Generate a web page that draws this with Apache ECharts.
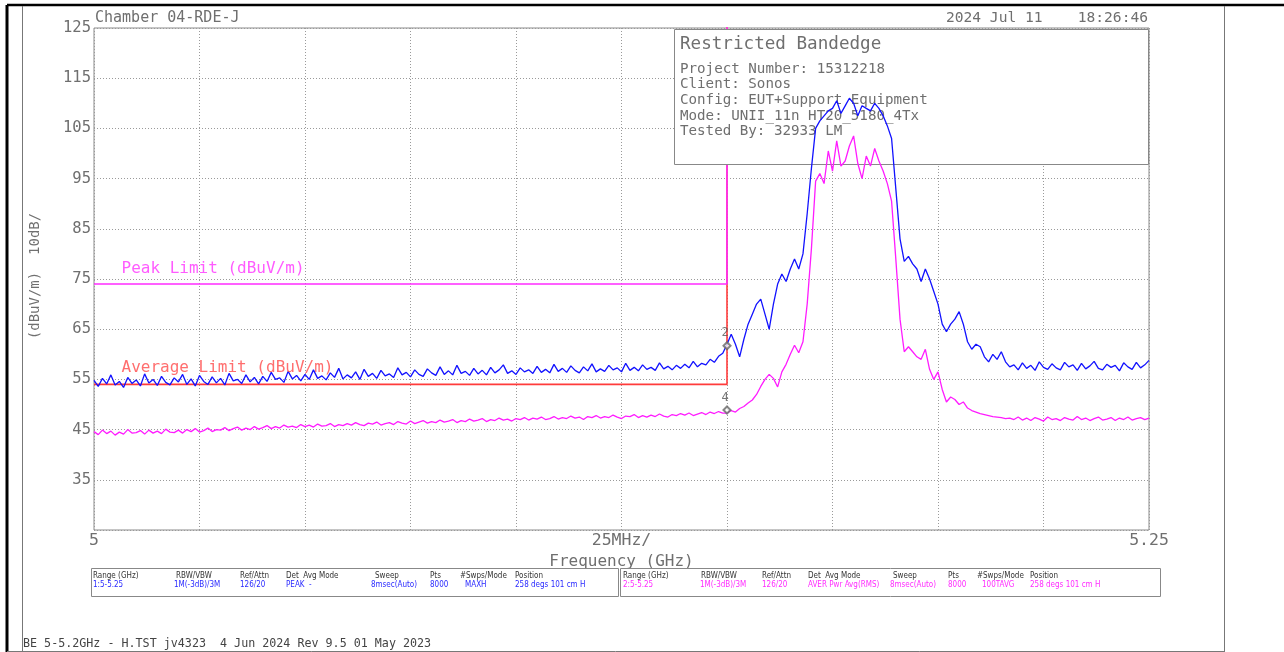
<!DOCTYPE html>
<html>
<head>
<meta charset="utf-8">
<title>Restricted Bandedge</title>
<script src="https://cdn.jsdelivr.net/npm/echarts@6/dist/echarts.min.js"></script>
<style>
  html, body { margin: 0; padding: 0; background: #fff; }
  #chart { width: 1284px; height: 652px; }
</style>
</head>
<body>
<div id="chart"></div>
<script>
// sweep: 5.000 .. 5.250 GHz, 1 MHz per point
var freqStart = 5;
var freqStep = 0.001;

// trace 1 - peak (MAXH), dBuV/m
var peakTrace = [
  54.8, 53.6, 55.2, 54.1, 55.9, 53.9, 54.6, 53.4, 55.4, 54.2,
  54.9, 53.7, 56.1, 54.3, 55.0, 53.8, 55.6, 54.4, 53.9, 55.3,
  54.5, 56.0, 54.0, 55.1, 53.7, 55.8, 54.6, 54.0, 55.5, 54.3,
  55.2, 53.9, 56.2, 54.7, 55.0, 54.2, 55.9, 54.5, 55.4, 54.1,
  55.6, 54.6, 56.4, 55.0, 55.3, 54.4, 56.6, 55.1, 55.8, 54.7,
  56.0, 55.0, 56.9, 55.2, 55.7, 54.9, 56.3, 55.4, 57.2, 55.1,
  55.9, 55.3, 56.5, 55.0, 57.0, 55.6, 56.2, 55.2, 56.8, 55.7,
  56.1, 55.4, 57.3, 55.9, 56.4, 55.5, 56.9, 56.0, 55.6, 57.1,
  56.3, 55.8, 57.5, 56.0, 56.7, 55.9, 57.8, 56.2, 56.6, 55.8,
  57.2, 56.1, 56.8, 55.9, 57.4, 56.3, 56.9, 57.9, 56.2, 56.7,
  56.0, 57.3, 56.5, 56.9, 56.2, 57.6, 56.4, 57.0, 56.3, 58.0,
  56.6, 57.2, 56.4, 57.7, 56.8, 56.3, 57.5, 56.7, 58.1, 56.5,
  57.1, 56.6, 57.8, 56.9, 57.3, 56.5, 58.2, 56.8, 57.4, 56.7,
  57.9, 57.0, 57.4, 56.8, 58.3, 57.1, 57.6, 56.9, 57.8, 57.2,
  58.0, 57.3, 58.6, 57.5, 58.2, 57.9, 59.0, 58.4, 59.6, 60.2,
  62, 64, 62, 59.5, 63, 66, 68, 70, 71, 68,
  65, 70, 74, 76, 74.5, 77, 79, 77, 80, 88,
  97, 105, 106.5, 107.5, 108.5, 109, 110.5, 108, 109.5, 111,
  110, 107.5, 109.5, 109, 108.5, 110, 109, 107.5, 105.5, 103,
  93, 83, 78.5, 79.5, 78, 77, 74.5, 77, 75, 72.5,
  70, 66, 64.5, 66, 67, 68.5, 66, 62.5, 61, 62,
  61.5, 59.5, 58.5, 60, 59, 60.5, 58.5, 57.5,
  57.9, 56.9, 58.3, 57.2, 57.8, 56.8, 58.5, 57.4, 57.0, 58.1,
  57.3, 56.9, 58.4, 57.5, 57.9, 56.8, 58.2, 57.1, 57.7, 58.6,
  57.2, 56.9, 58.0, 57.4, 57.8, 56.7, 58.3, 57.5, 57.0, 58.4,
  57.3, 57.9, 58.8
];

// trace 2 - average (RMS), dBuV/m
var avgTrace = [
  44.6, 44.0, 44.9, 44.2, 44.7, 43.9, 44.5, 44.1, 45.0, 44.3,
  44.4, 44.8, 44.1, 44.9, 44.3, 44.7, 44.2, 45.1, 44.5, 44.4,
  44.9, 44.3, 45.0, 44.6, 45.2, 44.5, 44.8, 45.3, 44.6, 45.0,
  44.9, 45.4, 44.8, 45.2, 45.5, 44.9, 45.3, 45.0, 45.6, 45.1,
  45.4, 45.8, 45.2, 45.6, 45.3, 45.9, 45.5, 45.7, 45.4, 46.0,
  45.6, 45.9, 45.5, 46.1, 45.7, 45.8, 46.2, 45.6, 46.0, 45.8,
  46.2, 45.9, 46.4, 46.0, 45.8, 46.3, 46.1, 46.5, 45.9, 46.2,
  46.4, 46.0, 46.6, 46.3, 46.1, 46.7, 46.2, 46.5, 46.8, 46.3,
  46.6, 46.4, 46.9, 46.5, 46.7, 47.0, 46.4, 46.8, 46.6, 47.1,
  46.7, 46.9, 47.2, 46.6, 47.0, 46.8, 47.3, 46.9, 47.1, 46.7,
  47.2, 47.0, 47.4, 46.9, 47.3, 47.1, 47.5, 47.0, 47.2, 47.6,
  47.1, 47.4, 47.2, 47.7, 47.3, 47.5, 47.0, 47.6, 47.4, 47.8,
  47.3, 47.6, 47.4, 47.9, 47.5, 47.2, 47.7, 47.6, 48.0, 47.4,
  47.8, 47.5, 47.9, 47.6, 48.1, 47.7, 47.5, 48.0, 47.8, 48.2,
  47.9, 48.3, 47.8, 48.1, 48.4, 48.0, 48.5, 48.2, 48.6, 48.3,
  48.3, 48.8, 48.5, 49.2, 49.6, 50.3, 50.9, 52.0, 53.6, 55.0,
  56.0, 55.2, 53.5, 56.5, 58.0, 60.0, 61.8, 60.3, 62.5, 70.0,
  81.0, 94.5, 96.0, 94.0, 100.5, 96.5, 102.5, 97.5, 98.5, 101.5,
  103.5, 98.0, 95.0, 99.5, 97.5, 101.0, 98.5, 96.5, 94.0, 90.5,
  79.0, 67.0, 60.5, 61.5, 60.5, 59.5, 59.0, 61.0, 57.0, 55.0,
  56.5, 53.0, 50.5, 51.5, 51.0, 50.0, 50.5, 49.3, 48.8, 48.5,
  48.2, 48.0, 47.8, 47.6, 47.5, 47.4, 47.2, 47.3,
  47.0, 47.5, 46.9, 47.3, 46.8, 47.4, 47.1, 46.7, 47.5, 47.0,
  47.2, 46.8, 47.4, 47.1, 46.9, 47.6, 47.0, 47.3, 46.8, 47.2,
  47.5, 46.9, 47.1, 47.4, 46.8, 47.3, 47.0, 47.5, 46.9, 47.2,
  47.4, 47.0, 47.3
];

// limit lines (band edge at 5.15 GHz)
var peakLimit = [[5, 74], [5.15, 74], [5.15, 130]];
var avgLimit = [[5, 54], [5.15, 54], [5.15, 130]];

// markers at the band edge
var markers = [
  { name: '2', value: [5.15, 61.7] },
  { name: '4', value: [5.15, 48.9] }
];

var infoLines = [
  'Project Number: 15312218',
  'Client: Sonos',
  'Config: EUT+Support Equipment',
  'Mode: UNII_11n HT20_5180_4Tx',
  'Tested By: 32933 LM'
];

var tableHeads = ['Range (GHz)', 'RBW/VBW', 'Ref/Attn', 'Det  Avg Mode', 'Sweep', 'Pts', '#Swps/Mode', 'Position'];
var trace1Row = ['1:5-5.25', '1M(-3dB)/3M', '126/20', 'PEAK  -', '8msec(Auto)', '8000', 'MAXH', '258 degs 101 cm H'];
var trace2Row = ['2:5-5.25', '1M(-3dB)/3M', '126/20', 'AVER Pwr Avg(RMS)', '8msec(Auto)', '8000', '100TAVG', '258 degs 101 cm H'];

function toXY(arr) {
  return arr.map(function (v, i) {
    return [+(freqStart + i * freqStep).toFixed(3), v];
  });
}

var mono = '"DejaVu Sans Mono", monospace';
var cond = '"DejaVu Sans Condensed", "Liberation Sans", sans-serif';
var grayText = '#6f6f6f';

var chartDom = document.getElementById('chart');
var myChart = echarts.init(chartDom);

// table rows as graphic texts
function tableTexts(left, headX, valX, row, color) {
  var out = [];
  tableHeads.forEach(function (h, i) {
    out.push({ type: 'text', x: left + headX[i], y: 576, z: 5,
      style: { text: h, fill: '#333', font: '8px ' + cond, verticalAlign: 'middle' } });
    out.push({ type: 'text', x: left + valX[i], y: 585, z: 5,
      style: { text: row[i], fill: color, font: '8px ' + cond, verticalAlign: 'middle' } });
  });
  return out;
}

var graphics = [
  // page frame
  { type: 'line', z: 1, shape: { x1: 7, y1: 5, x2: 1284, y2: 5 }, style: { stroke: '#000', lineWidth: 2.5 } },
  { type: 'line', z: 1, shape: { x1: 7, y1: 5, x2: 7, y2: 652 }, style: { stroke: '#000', lineWidth: 3 } },
  { type: 'line', z: 1, shape: { x1: 22.5, y1: 6, x2: 22.5, y2: 652 }, style: { stroke: '#777', lineWidth: 1 } },
  { type: 'line', z: 1, shape: { x1: 1224.5, y1: 6, x2: 1224.5, y2: 652 }, style: { stroke: '#777', lineWidth: 1 } },
  { type: 'line', z: 1, shape: { x1: 7, y1: 651.5, x2: 1224, y2: 651.5 }, style: { stroke: '#777', lineWidth: 1 } },
  // header
  { type: 'text', x: 95, y: 18, style: { text: 'Chamber 04-RDE-J', fill: grayText, font: '15px ' + mono, verticalAlign: 'middle' } },
  { type: 'text', x: 1148, y: 18, style: { text: '2024 Jul 11    18:26:46', fill: grayText, font: '14.6px ' + mono, align: 'right', verticalAlign: 'middle' } },
  // y axis title
  { type: 'text', x: 35, y: 276, rotation: Math.PI / 2,
    style: { text: '(dBuV/m)  10dB/', fill: grayText, font: '14px ' + mono, align: 'center', verticalAlign: 'middle' } },
  // info box
  { type: 'rect', z: 10, shape: { x: 674.5, y: 29.5, width: 474, height: 135 }, style: { fill: '#fff', stroke: '#888', lineWidth: 1 } },
  { type: 'text', z: 11, x: 680, y: 44, style: { text: 'Restricted Bandedge', fill: grayText, font: '17.6px ' + mono, verticalAlign: 'middle' } },
  // table boxes
  { type: 'rect', z: 4, shape: { x: 91.5, y: 568.5, width: 527, height: 28 }, style: { fill: 'none', stroke: '#888', lineWidth: 1 } },
  { type: 'rect', z: 4, shape: { x: 620.5, y: 568.5, width: 540, height: 28 }, style: { fill: 'none', stroke: '#888', lineWidth: 1 } },
  // footer
  { type: 'text', x: 23, y: 644, style: { text: 'BE 5-5.2GHz - H.TST jv4323  4 Jun 2024 Rev 9.5 01 May 2023', fill: '#444', font: '11.7px ' + mono, verticalAlign: 'middle' } }
];

infoLines.forEach(function (t, i) {
  graphics.push({ type: 'text', z: 11, x: 680, y: 69 + i * 15.7,
    style: { text: t, fill: grayText, font: '14.2px ' + mono, verticalAlign: 'middle' } });
});

graphics = graphics
  .concat(tableTexts(91, [2, 85, 149, 195, 284, 339, 369, 424], [2, 83, 149, 195, 280, 339, 374, 424], trace1Row, '#2a2aff'))
  .concat(tableTexts(621, [2, 80, 141, 187, 272, 327, 356, 409], [2, 79, 141, 187, 269, 327, 361, 409], trace2Row, '#ff2cff'));

function near(a, b) { return Math.abs(a - b) < 1e-6; }

var option = {
  animation: false,
  backgroundColor: '#fff',
  grid: {
    left: 94, right: 135, top: 28, bottom: 122,
    show: true, borderColor: '#8a8a8a', borderWidth: 1, backgroundColor: 'transparent'
  },
  xAxis: {
    type: 'value', min: 5, max: 5.25, interval: 0.025,
    name: 'Frequency (GHz)', nameLocation: 'middle', nameGap: 20,
    nameTextStyle: { color: grayText, fontFamily: mono, fontSize: 16 },
    axisLine: { show: false }, axisTick: { show: false },
    axisLabel: {
      color: grayText, fontFamily: mono, fontSize: 16.5, margin: 2,
      showMinLabel: true, showMaxLabel: true,
      formatter: function (v) {
        if (near(v, 5)) return '5';
        if (near(v, 5.25)) return '5.25';
        if (near(v, 5.125)) return '25MHz/';
        return '';
      }
    },
    splitLine: { show: true, lineStyle: { color: '#9a9a9a', type: [1, 2], width: 1 } }
  },
  yAxis: {
    type: 'value', min: 25, max: 125, interval: 10,
    axisLine: { show: false }, axisTick: { show: false },
    axisLabel: {
      color: grayText, fontFamily: mono, fontSize: 15.5, margin: 3,
      formatter: function (v) { return near(v, 25) ? '' : String(v); }
    },
    splitLine: { show: true, lineStyle: { color: '#9a9a9a', type: [1, 2], width: 1 } }
  },
  graphic: { elements: graphics },
  series: [
    {
      name: 'Average Limit', type: 'line', z: 2, data: avgLimit,
      showSymbol: false, symbol: 'none', silent: true,
      lineStyle: { color: '#ff3b3b', width: 1.6 }
    },
    {
      name: 'Peak Limit', type: 'line', z: 3, data: peakLimit,
      showSymbol: false, symbol: 'none', silent: true,
      lineStyle: { color: '#ff2cff', width: 1.6 }
    },
    {
      name: 'Trace 2', type: 'line', z: 20, data: toXY(avgTrace),
      showSymbol: false, symbol: 'none', silent: true,
      lineStyle: { color: '#ff1cff', width: 1.3 }
    },
    {
      name: 'Trace 1', type: 'line', z: 21, data: toXY(peakTrace),
      showSymbol: false, symbol: 'none', silent: true,
      lineStyle: { color: '#1212ff', width: 1.3 }
    },
    {
      // limit captions anchored to the limit start points
      name: 'Limit labels', type: 'scatter', z: 22, silent: true,
      symbolSize: 1, itemStyle: { color: 'transparent' },
      data: [
        { value: peakLimit[0], label: { show: true, formatter: 'Peak Limit (dBuV/m)', color: '#ff33ff', position: 'right', distance: 0, offset: [27, -15], fontFamily: mono, fontSize: 16 } },
        { value: avgLimit[0], label: { show: true, formatter: 'Average Limit (dBuV/m)', color: '#ff4a4a', position: 'right', distance: 0, offset: [27, -17], fontFamily: mono, fontSize: 16 } }
      ]
    },
    {
      name: 'Markers', type: 'scatter', z: 23, silent: true,
      symbol: 'emptyDiamond', symbolSize: 7,
      itemStyle: { color: '#666', borderColor: '#666', borderWidth: 1 },
      label: { show: true, position: 'top', distance: 2, offset: [-2, 0], formatter: '{b}', color: '#555', fontFamily: mono, fontSize: 12 },
      data: markers
    }
  ]
};

option && myChart.setOption(option);
</script>
</body>
</html>
